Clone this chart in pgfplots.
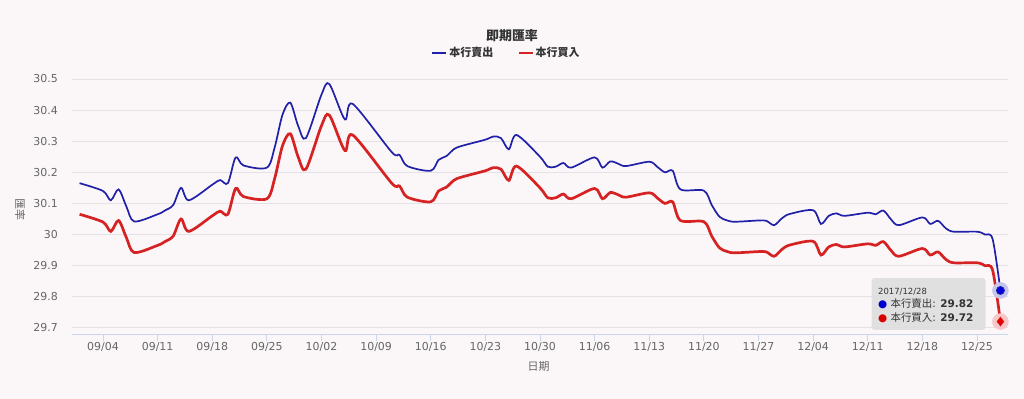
\documentclass[border=0pt]{standalone}
\usepackage{fontspec}
\setmainfont{DejaVu Sans}
\newfontfamily\cjk{Noto Sans CJK TC}
\usepackage{pgfplots}
\pgfplotsset{compat=1.18}
\definecolor{bg}{RGB}{251,247,248}
\definecolor{sellblue}{RGB}{32,32,168}
\definecolor{buyred}{RGB}{214,34,34}
\definecolor{gridc}{RGB}{228,226,228}
\definecolor{axisc}{RGB}{204,214,235}
\definecolor{labc}{RGB}{102,102,102}
\definecolor{titc}{RGB}{51,51,51}
\definecolor{tipbg}{RGB}{222,222,222}
\definecolor{halob}{RGB}{196,196,236}
\definecolor{halor}{RGB}{246,198,200}

\pgfplotstableread{
d sell
-3 30.165
0 30.140
1 30.110
2 30.145
3 30.090
4 30.042
7 30.065
8 30.078
9 30.095
10 30.150
11 30.110
14 30.160
15 30.175
16 30.165
17 30.248
18 30.222
21 30.215
22 30.280
23 30.385
24 30.424
25 30.350
26 30.310
28 30.450
29 30.484
31 30.370
32 30.420
37 30.265
38 30.256
39 30.220
42 30.205
43 30.240
44 30.252
45 30.275
46 30.285
49 30.305
50 30.315
51 30.310
52 30.274
53 30.320
56 30.250
57 30.218
58 30.218
59 30.230
60 30.215
63 30.248
64 30.215
65 30.235
66 30.228
67 30.220
70 30.234
71 30.218
72 30.200
73 30.205
74 30.145
77 30.141
78 30.095
79 30.057
80 30.045
81 30.041
84 30.045
85 30.044
86 30.030
87 30.052
88 30.066
91 30.078
92 30.034
93 30.060
94 30.068
95 30.060
98 30.070
99 30.065
100 30.077
101 30.048
102 30.030
105 30.055
106 30.034
107 30.044
108 30.020
109 30.009
112 30.009
113 30.000
114 29.985
115 29.820
}\selltable

\pgfplotstableread{
d buy
-3 30.065
0 30.040
1 30.010
2 30.045
3 29.990
4 29.942
7 29.965
8 29.978
9 29.995
10 30.050
11 30.010
14 30.060
15 30.075
16 30.065
17 30.148
18 30.122
21 30.115
22 30.180
23 30.285
24 30.324
25 30.250
26 30.210
28 30.350
29 30.384
31 30.270
32 30.320
37 30.165
38 30.156
39 30.120
42 30.105
43 30.140
44 30.152
45 30.175
46 30.185
49 30.205
50 30.215
51 30.210
52 30.174
53 30.220
56 30.150
57 30.118
58 30.118
59 30.130
60 30.115
63 30.148
64 30.115
65 30.135
66 30.128
67 30.120
70 30.134
71 30.118
72 30.100
73 30.105
74 30.045
77 30.041
78 29.995
79 29.957
80 29.945
81 29.941
84 29.945
85 29.944
86 29.930
87 29.952
88 29.966
91 29.978
92 29.934
93 29.960
94 29.968
95 29.960
98 29.970
99 29.965
100 29.977
101 29.948
102 29.930
105 29.955
106 29.934
107 29.944
108 29.920
109 29.909
112 29.909
113 29.900
114 29.885
115 29.720
}\buytable

\begin{document}
\begin{tikzpicture}
\useasboundingbox (0bp,0bp) rectangle (1024bp,-399bp);
\fill[bg] (0bp,0bp) rectangle (1024bp,-399bp);
\begin{axis}[
  at={(72bp,-334bp)}, anchor=south west,
  scale only axis, width=936bp, height=255bp,
  xmin=-3.97, xmax=115.97, ymin=29.68, ymax=30.5,
  axis line style={draw=none},
  xtick={0,7,14,21,28,35,42,49,56,63,70,77,84,91,98,105,112},
  xticklabels={09/04,09/11,09/18,09/25,10/02,10/09,10/16,10/23,10/30,11/06,11/13,11/20,11/27,12/04,12/11,12/18,12/25},
  ytick={29.7,29.8,29.9,30,30.1,30.2,30.3,30.4,30.5},
  xtick pos=bottom, ytick pos=left,
  tick align=outside,
  xtick style={draw=none},
  ytick style={draw=none},
  major tick length=0bp,
  ymajorgrids, grid style={draw=gridc, line width=0.8bp},
  /pgf/number format/assume math mode=true,
  tick label style={font=\fontsize{11}{13}\selectfont, text=labc},
  yticklabel style={anchor=east, inner sep=0pt, xshift=-14bp},
  xticklabel style={anchor=north, inner sep=0pt, yshift=-8bp},
  xlabel={\cjk 日期}, 
  xlabel style={font=\fontsize{11}{13}\selectfont, text=labc, at={(axis description cs:0.4985,0)}, anchor=center, yshift=-32bp},
  ylabel={\cjk 匯率},
  ylabel style={font=\fontsize{11}{13}\selectfont, text=labc, rotate=180, at={(axis description cs:-0.0555,0.487)}, anchor=center},
  legend columns=2,
  legend style={at={(axis description cs:0.464,1)}, anchor=center, yshift=26bp, draw=none, fill=none,
    font=\cjk\bfseries\fontsize{11}{13}\selectfont, text=titc,
    /tikz/every even column/.append style={column sep=22bp}},
  legend image code/.code={\draw[#1, line width=2.4bp] (0bp,0bp) -- (14bp,0bp);},
  clip=false,
]
\draw[axisc, line width=1bp] (rel axis cs:0,0) -- (rel axis cs:1,0);
\foreach \t in {0,7,14,21,28,35,42,49,56,63,70,77,84,91,98,105,112} {
  \edef\tmp{\noexpand\draw[axisc, line width=0.8bp] (axis cs:\t,29.68) -- ++(0bp,-7bp);}\tmp
}
\addplot[sellblue, line width=1.7bp, smooth, tension=0.5] table[x=d,y=sell] {\selltable};
\addlegendentry{本行賣出}
\addplot[buyred, line width=2.7bp, smooth, tension=0.5] table[x=d,y=buy] {\buytable};
\addlegendentry{本行買入}
\fill[tipbg, fill opacity=0.9, rounded corners=3bp] (axis cs:98.5,29.86) rectangle (axis cs:113.1,29.693);
\node[anchor=west, inner sep=0pt, font=\fontsize{8.5}{10}\selectfont, text=titc] at (axis cs:99.3,29.816) {2017/12/28};
\node[anchor=west, inner sep=0pt, font=\fontsize{10.5}{12}\selectfont, text=titc] at (axis cs:99.3,29.777) {\textcolor{blue!80!black}{●} {\cjk 本行賣出}: \textbf{29.82}};
\node[anchor=west, inner sep=0pt, font=\fontsize{10.5}{12}\selectfont, text=titc] at (axis cs:99.3,29.731) {\textcolor{red!85!black}{●} {\cjk 本行買入}: \textbf{29.72}};
\addplot[forget plot, only marks, color=halob, mark=*, mark size=8bp, mark options={fill=halob, draw=halob}] coordinates {(115,29.82)};
\addplot[forget plot, only marks, color=sellblue, mark=*, mark size=4bp, mark options={fill=blue!85!black, draw=sellblue, line width=0.8bp}] coordinates {(115,29.82)};
\addplot[forget plot, only marks, color=halor, mark=*, mark size=8bp, mark options={fill=halor, draw=halor}] coordinates {(115,29.72)};
\addplot[forget plot, only marks, color=buyred, mark=diamond*, mark size=4.5bp, mark options={fill=red!90!black, draw=buyred, line width=0.6bp}] coordinates {(115,29.72)};
\end{axis}
\node[font=\cjk\bfseries\fontsize{13}{15}\selectfont, text=titc] at (512bp,-36bp) {即期匯率};
\end{tikzpicture}
\end{document}
